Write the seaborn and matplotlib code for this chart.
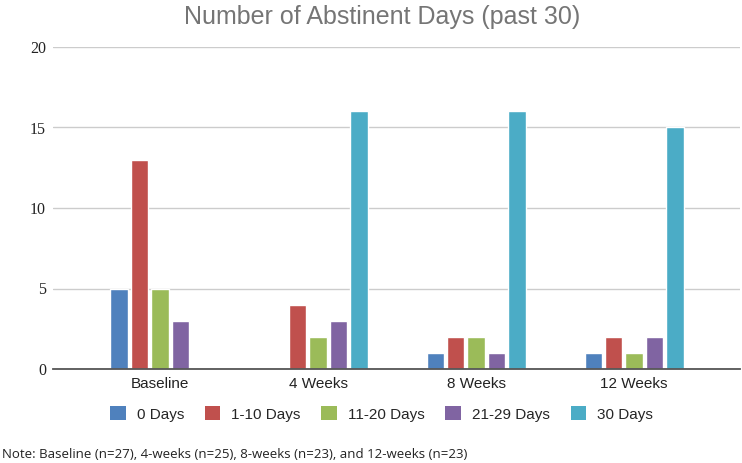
import matplotlib
matplotlib.use("Agg")
import matplotlib.pyplot as plt
import seaborn as sns
import pandas as pd
from matplotlib.patches import Patch

categories = ["Baseline", "4 Weeks", "8 Weeks", "12 Weeks"]
series = ["0 Days", "1-10 Days", "11-20 Days", "21-29 Days", "30 Days"]
days_0 = [5, 0, 1, 1]
days_1_10 = [13, 4, 2, 2]
days_11_20 = [5, 2, 2, 1]
days_21_29 = [3, 3, 1, 2]
days_30 = [0, 16, 16, 15]
yticks = [0, 5, 10, 15, 20]
colors = ["#4F81BD", "#C0504D", "#9BBB59", "#8064A2", "#4BACC6"]

values = [days_0, days_1_10, days_11_20, days_21_29, days_30]
rows = []
for s, vals in zip(series, values):
    for c, v in zip(categories, vals):
        rows.append({"Time": c, "Group": s, "Count": v})
df = pd.DataFrame(rows)

sns.set_theme(style="white")
plt.rcParams['font.family'] = ['Liberation Sans', 'DejaVu Sans']

fig = plt.figure(figsize=(7.42, 4.63), dpi=100)
ax = fig.add_axes([53/742, 1 - 369/463, (740-53)/742, (369-47)/463])

sns.barplot(data=df, x="Time", y="Count", hue="Group", order=categories,
            hue_order=series, palette=colors, width=0.645, gap=0.14,
            ax=ax, legend=False, saturation=1, errorbar=None)

ax.set_ylim(0, 20)
ax.set_xlim(-0.677, 3.67)
ax.set_yticks(yticks)
ax.set_yticklabels([str(t) for t in yticks], fontfamily="Liberation Serif", fontsize=11.5, color="#222222")
ax.yaxis.grid(True, color="#cccccc", linewidth=1)
ax.set_axisbelow(True)
for sp in ["top", "right", "left"]:
    ax.spines[sp].set_visible(False)
ax.spines["bottom"].set_color("#555555")
ax.spines["bottom"].set_linewidth(1.3)
ax.tick_params(axis="y", length=0, pad=5)
ax.tick_params(axis="x", length=0, pad=6, labelsize=11, labelcolor="#222222")
ax.set_xlabel("")
ax.set_ylabel("")

fig.text(382/742, 1 - 17/463, "Number of Abstinent Days (past 30)", ha="center", va="center",
         fontsize=18, color="#757575")

handles = [Patch(facecolor=c, edgecolor="none") for c in colors]
fig.legend(handles, series, loc="center", bbox_to_anchor=(381.5/742, 1 - 414/463), ncol=5,
           frameon=False, fontsize=11, handlelength=1.0, handleheight=1.0,
           columnspacing=1.37, handletextpad=0.72)

fig.text(2/742, 1 - 454/463, "Note: Baseline (n=27), 4-weeks (n=25), 8-weeks (n=23), and 12-weeks (n=23)",
         ha="left", va="center", fontsize=9.5, fontfamily="Open Sans", color="#222222")

fig.savefig("out.png", dpi=100)
